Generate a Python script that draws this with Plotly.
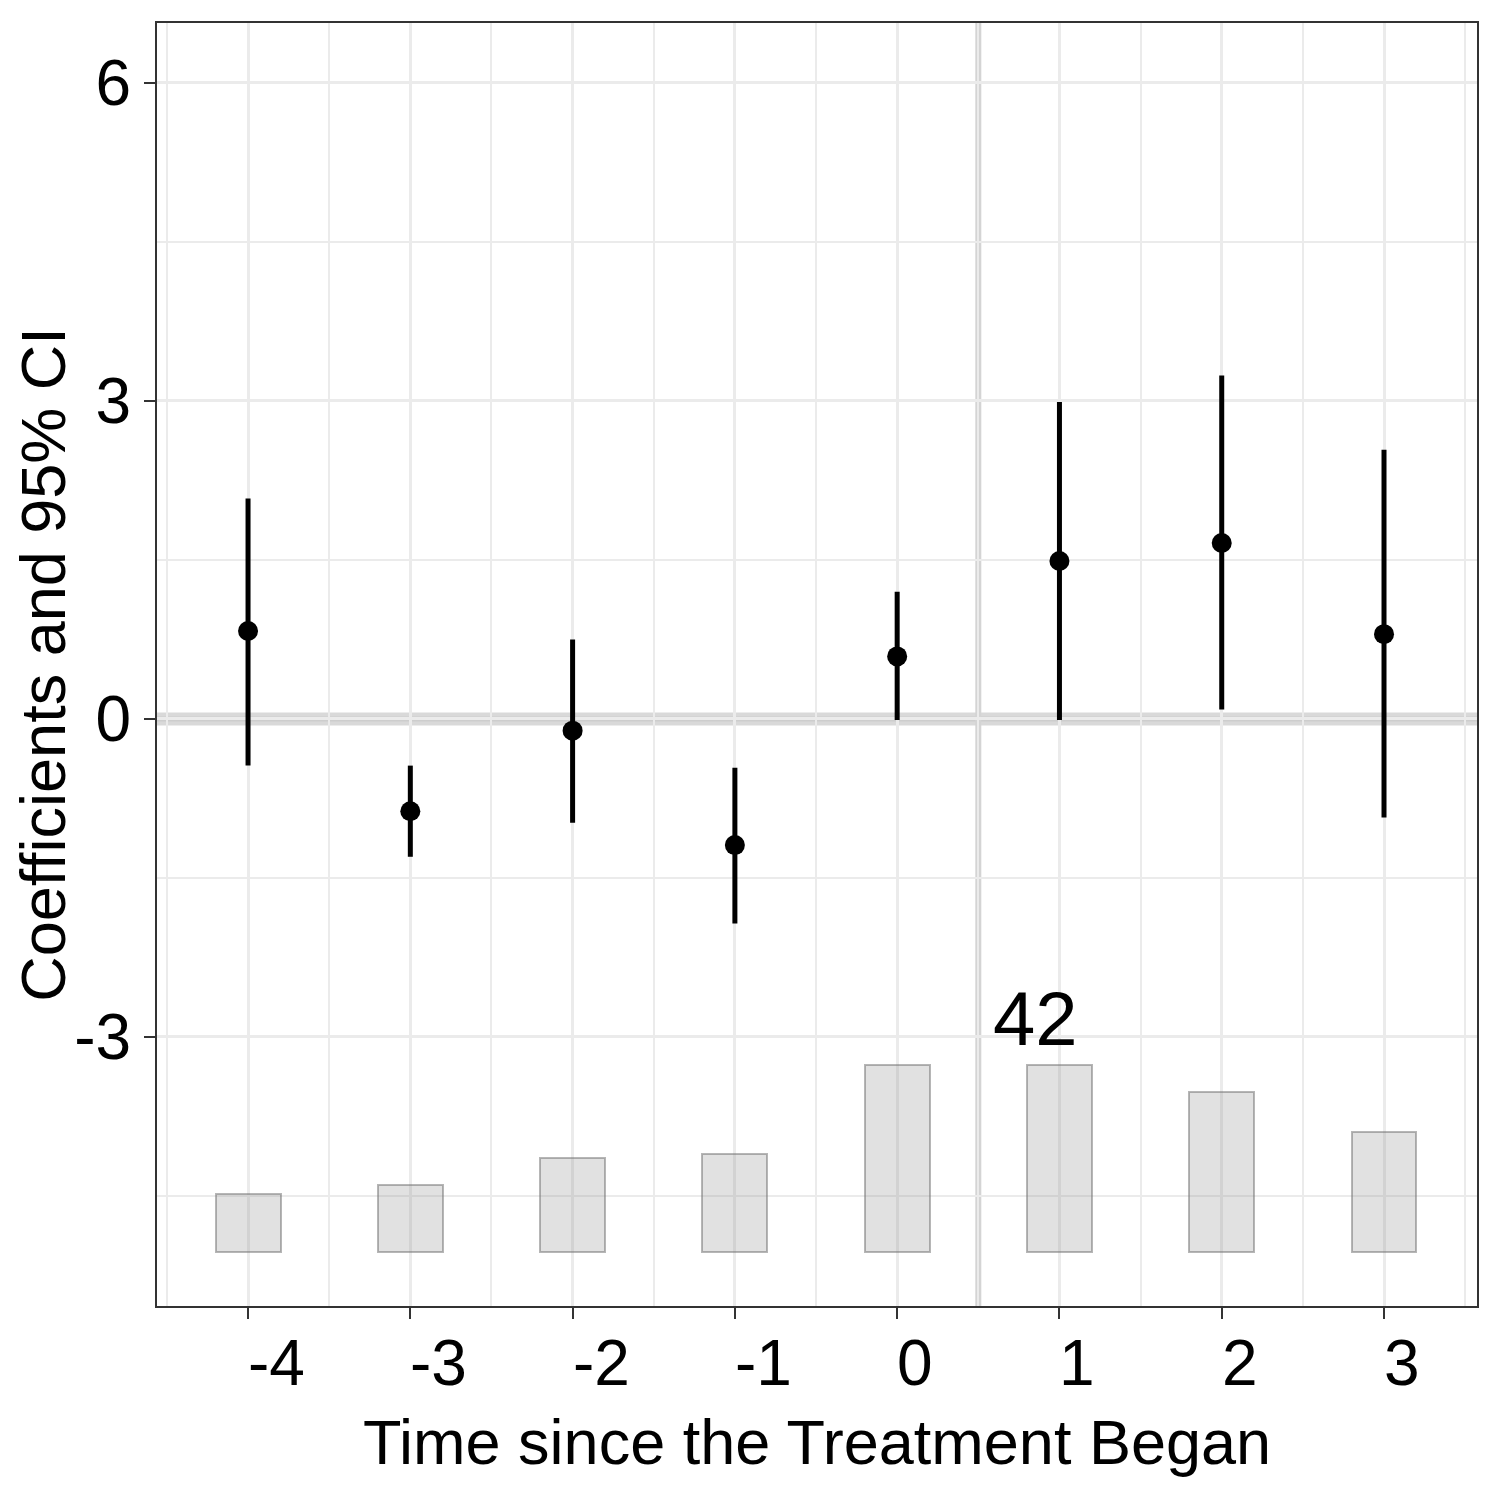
import plotly.graph_objects as go

# ---- data ----
periods = [-4, -3, -2, -1, 0, 1, 2, 3]
coef = [0.83, -0.87, -0.11, -1.19, 0.59, 1.49, 1.66, 0.80]
ci_upper = [2.08, -0.44, 0.75, -0.46, 1.20, 2.99, 3.24, 2.54]
ci_lower = [-0.44, -1.30, -0.98, -1.93, -0.01, -0.01, 0.09, -0.93]
counts = [13, 15, 21, 22, 42, 42, 36, 27]
y_ticks = [-3, 0, 3, 6]
y_tick_labels = ["-3", "0", "3", "6"]
x_tick_labels = ["-4", "-3", "-2", "-1", "0", "1", "2", "3"]
hline_y = 0
vline_x = 0.5

# ---- layout constants ----
bar_base = -5.028
bar_max_h = 1.764
bar_scale = bar_max_h / max(counts)
x_range = [-4.561, 3.573]
y_range = [-5.538, 6.566]
FONT = "Liberation Sans, Arial, sans-serif"
FS = 63
FS_TICK = 64
FS_COUNT = 76

err_plus = [u - c for u, c in zip(ci_upper, coef)]
err_minus = [c - l for c, l in zip(coef, ci_lower)]
bar_heights = [n * bar_scale for n in counts]

fig = go.Figure()

fig.add_trace(go.Bar(
    x=periods, y=bar_heights, base=bar_base, width=0.4,
    marker=dict(color="rgba(128,128,128,0.24)",
                line=dict(color="rgba(110,110,110,0.5)", width=2)),
    hoverinfo="skip", showlegend=False,
))

# reference lines
fig.add_shape(type="line", xref="paper", x0=0, x1=1, yref="y", y0=hline_y, y1=hline_y,
              line=dict(color="#d9d9d9", width=13), layer="between")
fig.add_shape(type="line", xref="paper", x0=0, x1=1, yref="y", y0=hline_y, y1=hline_y,
              line=dict(color="#cdcdcd", width=5), layer="between")
fig.add_shape(type="line", yref="paper", y0=0, y1=1, xref="x", x0=vline_x, x1=vline_x,
              line=dict(color="#d4d4d4", width=6), layer="between")

fig.add_trace(go.Scatter(
    x=periods, y=coef, mode="markers",
    marker=dict(color="black", size=20),
    error_y=dict(type="data", symmetric=False, array=err_plus, arrayminus=err_minus,
                 color="black", thickness=5, width=0),
    hoverinfo="skip", showlegend=False,
))

# count label at the max bar
imax = len(counts) - 1 - counts[::-1].index(max(counts))
fig.add_annotation(x=periods[imax], y=bar_base + bar_heights[imax], xref="x", yref="y",
                   text=str(max(counts)), showarrow=False, yanchor="bottom",
                   xshift=-24, yshift=2, font=dict(family=FONT, size=FS_COUNT, color="black"))

# x tick labels (left aligned at tick)
for p, lab in zip(periods, x_tick_labels):
    fig.add_annotation(x=p, y=0, xref="x", yref="paper", text=lab, showarrow=False,
                       xanchor="left", yanchor="top", yshift=-19, xshift=-2,
                       font=dict(family=FONT, size=FS_TICK, color="black"))

fig.update_layout(
    width=1500, height=1500,
    margin=dict(l=149, r=31, t=15, b=202, autoexpand=False),
    paper_bgcolor="white", plot_bgcolor="white",
    font=dict(family=FONT, size=FS, color="black"),
    bargap=0,
)

fig.update_xaxes(
    range=x_range, tickvals=periods, showticklabels=False,
    ticks="outside", ticklen=11, tickwidth=2, tickcolor="#333333",
    showgrid=True, gridcolor="#ebebeb", gridwidth=3,
    minor=dict(tickvals=[p + 0.5 for p in [-5] + periods], showgrid=True,
               gridcolor="#ebebeb", gridwidth=2, ticks=""),
    showline=True, linecolor="#333333", linewidth=2, mirror=True,
    zeroline=False,
    title=dict(text="Time since the Treatment Began", standoff=102,
               font=dict(family=FONT, size=FS, color="black")),
)
fig.update_yaxes(
    range=y_range, tickvals=y_ticks, ticktext=y_tick_labels,
    ticks="outside", ticklen=11, tickwidth=2, tickcolor="#333333",
    tickfont=dict(family=FONT, size=FS_TICK, color="black"),
    showgrid=True, gridcolor="#ebebeb", gridwidth=3,
    minor=dict(tickvals=[-4.5, -1.5, 1.5, 4.5], showgrid=True,
               gridcolor="#ebebeb", gridwidth=2, ticks=""),
    showline=True, linecolor="#333333", linewidth=2, mirror=True,
    zeroline=False,
    title=dict(text="Coefficients and 95% CI", standoff=0,
               font=dict(family=FONT, size=FS, color="black")),
)

fig.write_html("out.html")
